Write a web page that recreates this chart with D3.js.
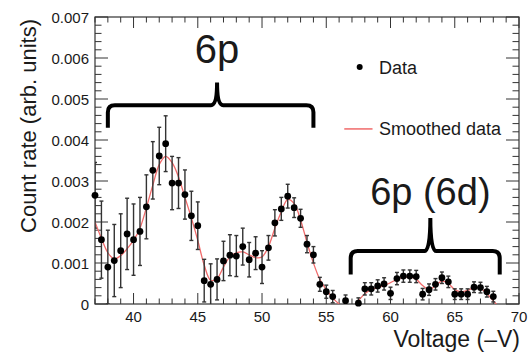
<!DOCTYPE html>
<html>
<head>
<meta charset="utf-8">
<script src="https://cdn.jsdelivr.net/npm/d3@7"></script>
<style>
  body { margin: 0; background: #fff; }
  text { font-family: "Liberation Sans", Arial, sans-serif; fill: #1a1a1a; }
</style>
</head>
<body>
<div id="chart-area"></div>
<script>
// measured points (voltage in -V, count rate in arb. units)
const voltage = [37, 37.5, 38, 38.5, 39, 39.5, 40, 40.5, 41, 41.5, 42, 42.5, 43, 43.5, 44, 44.5,
    45, 45.5, 46, 46.5, 47, 47.5, 48, 48.5, 49, 49.5, 50, 50.5, 51, 51.5, 52, 52.5, 53, 53.5,
    54, 54.5, 55, 55.5, 56.5, 57.5, 58, 58.5, 59, 59.5, 60, 60.5, 61, 61.5, 62, 62.5, 63, 63.5,
    64, 64.5, 65, 65.5, 66, 66.5, 67, 67.5, 68];
const countRate = [0.00265, 0.00157, 0.00090, 0.00106, 0.00130, 0.00171, 0.00157, 0.00177, 0.00237,
    0.00326, 0.00361, 0.00391, 0.00295, 0.00295, 0.00267, 0.00215, 0.00191, 0.00057, 0.00048,
    0.00060, 0.00105, 0.00119, 0.00117, 0.00140, 0.00108, 0.00124, 0.00090, 0.00137, 0.00198,
    0.00232, 0.00263, 0.00235, 0.00209, 0.00146, 0.00120, 0.00048, 0.00030, 0.00018, 0.00008,
    0.00002, 0.00037, 0.00037, 0.00044, 0.00049, 0.00026, 0.00062, 0.00068, 0.00068, 0.00067,
    0.00024, 0.00035, 0.00048, 0.00064, 0.00054, 0.00024, 0.00024, 0.00024, 0.00041, 0.00040,
    0.00030, 0.00018];
const countErr = [0.0008, 0.00094, 0.0009, 0.00088, 0.0009, 0.00087, 0.00087, 0.00083, 0.00078,
    0.0007, 0.0007, 0.00068, 0.00065, 0.00062, 0.0006, 0.0006, 0.00058, 0.00052, 0.0005,
    0.0005, 0.00048, 0.0005, 0.0005, 0.00045, 0.00042, 0.0004, 0.0004, 0.0003, 0.00032,
    0.00028, 0.00029, 0.00024, 0.00022, 0.00021, 0.0002, 0.00017, 0.00016, 0.00015, 0.00014,
    0.00013, 0.00015, 0.00015, 0.00015, 0.00015, 0.00015, 0.00015, 0.00015, 0.00015, 0.00015,
    0.00014, 0.00014, 0.00014, 0.00014, 0.00014, 0.00013, 0.00013, 0.00013, 0.00013, 0.00013,
    0.00013, 0.00013];

// smoothed curve
const smoothVoltage = [37, 37.5, 38, 38.5, 39, 39.5, 40, 40.5, 41, 41.5, 42, 42.5, 43, 43.5, 44,
    44.5, 45, 45.5, 46, 46.5, 47, 47.5, 48, 48.5, 49, 49.5, 50, 50.5, 51, 51.5, 52, 52.5, 53,
    53.5, 54, 54.5, 55, 55.5, 56, 56.5, 57, 57.5, 58, 58.5, 59, 59.5, 60, 60.5, 61, 61.5, 62,
    62.5, 63, 63.5, 64, 64.5, 65, 65.5, 66, 66.5, 67, 67.5, 68, 68.5];
const smoothRate = [0.00200, 0.00160, 0.00125, 0.00110, 0.00118, 0.00135, 0.00155, 0.00185,
    0.00235, 0.00290, 0.00340, 0.00360, 0.00345, 0.00310, 0.00260, 0.00210, 0.00155, 0.00095,
    0.00058, 0.00062, 0.00090, 0.00115, 0.00125, 0.00127, 0.00120, 0.00113, 0.00115, 0.00140,
    0.00185, 0.00225, 0.00255, 0.00245, 0.00205, 0.00150, 0.00100, 0.00060, 0.00035, 0.00015,
    0.00000, -0.0001, -0.0001, 0.00008, 0.00025, 0.00035, 0.00040, 0.00045, 0.00052, 0.00060,
    0.00065, 0.00066, 0.00060, 0.00045, 0.00035, 0.00045, 0.00056, 0.00050, 0.00035, 0.00030,
    0.00033, 0.00040, 0.00038, 0.00025, 0.00008, -0.0001];

const xTicks = [40, 45, 50, 55, 60, 65, 70];
const yTicks = [0, 0.001, 0.002, 0.003, 0.004, 0.005, 0.006, 0.007];

// annotation braces, in data units
const braceLabels = ["6p", "6p (6d)"];
const braceFrom = [38, 56.9];
const braceTo = [54, 68.5];
const braceMid = [46.5, 63.1];

const W = 529, H = 354;
const margin = { left: 95, right: 10, top: 17, bottom: 50 };
const width = W - margin.left - margin.right;
const height = H - margin.top - margin.bottom;

const svg = d3.select("#chart-area").append("svg")
    .attr("width", W)
    .attr("height", H);

const g = svg.append("g")
    .attr("transform", "translate(" + margin.left + "," + margin.top + ")");

const x = d3.scaleLinear().domain([37, 70]).range([0, width]);
const y = d3.scaleLinear().domain([0, 0.007]).range([height, 0]);

g.append("clipPath").attr("id", "clip")
    .append("rect").attr("width", width).attr("height", height);

const axisColor = "#333";

// ROOT-like frame with ticks on all four sides
function drawTicks(values, len, isX) {
    values.forEach(v => {
        if (isX) {
            g.append("line").attr("x1", x(v)).attr("x2", x(v)).attr("y1", height).attr("y2", height - len)
                .attr("stroke", axisColor);
            g.append("line").attr("x1", x(v)).attr("x2", x(v)).attr("y1", 0).attr("y2", len)
                .attr("stroke", axisColor);
        } else {
            g.append("line").attr("y1", y(v)).attr("y2", y(v)).attr("x1", 0).attr("x2", len)
                .attr("stroke", axisColor);
            g.append("line").attr("y1", y(v)).attr("y2", y(v)).attr("x1", width).attr("x2", width - len)
                .attr("stroke", axisColor);
        }
    });
}

const xMinor = d3.range(37, 71, 1).filter(v => v % 5 !== 0);
const yMinor = d3.range(0, 36).map(i => i * 0.0002).filter((v, i) => i % 5 !== 0);
drawTicks(xMinor, 5.5, true);
drawTicks(xTicks, 11, true);
drawTicks(yMinor, 6.5, false);
drawTicks(yTicks, 13, false);

g.append("rect")
    .attr("width", width).attr("height", height)
    .attr("fill", "none").attr("stroke", axisColor).attr("stroke-width", 1.2);

// tick labels
g.selectAll(".xlab").data(xTicks).enter().append("text")
    .attr("x", d => x(d)).attr("y", height + 18)
    .attr("text-anchor", "middle").attr("font-size", "15px")
    .text(d => d);

g.selectAll(".ylab").data(yTicks).enter().append("text")
    .attr("x", -6).attr("y", d => y(d) + 5.5)
    .attr("text-anchor", "end").attr("font-size", "15px")
    .text(d => d === 0 ? "0" : d3.format(".3f")(d));

// axis titles
svg.append("text")
    .attr("transform", "translate(36,126) rotate(-90)")
    .attr("text-anchor", "middle").attr("font-size", "22px")
    .text("Count rate (arb. units)");

svg.append("text")
    .attr("x", margin.left + width + 1).attr("y", 347)
    .attr("text-anchor", "end").attr("font-size", "23px")
    .text("Voltage (\u2013V)");

const plot = g.append("g").attr("clip-path", "url(#clip)");

// smoothed line
const smooth = smoothVoltage.map((v, i) => ({ v: v, r: smoothRate[i] }));
plot.append("path")
    .datum(smooth)
    .attr("fill", "none")
    .attr("stroke", "#f06a6a")
    .attr("stroke-width", 1.3)
    .attr("d", d3.line().x(d => x(d.v)).y(d => y(d.r)).curve(d3.curveCatmullRom.alpha(0.5)));

// data with error bars
const pts = voltage.map((v, i) => ({ v: v, r: countRate[i], e: countErr[i] }));
const bars = plot.selectAll(".err").data(pts).enter().append("g")
    .attr("stroke", "#333").attr("stroke-width", 1.4);
bars.append("line")
    .attr("x1", d => x(d.v)).attr("x2", d => x(d.v))
    .attr("y1", d => y(d.r - d.e)).attr("y2", d => y(d.r + d.e));
bars.append("line")
    .attr("x1", d => x(d.v) - 2).attr("x2", d => x(d.v) + 2)
    .attr("y1", d => y(d.r + d.e)).attr("y2", d => y(d.r + d.e));
bars.append("line")
    .attr("x1", d => x(d.v) - 2).attr("x2", d => x(d.v) + 2)
    .attr("y1", d => y(d.r - d.e)).attr("y2", d => y(d.r - d.e));

g.selectAll(".pt").data(pts).enter().append("circle")
    .attr("cx", d => x(d.v)).attr("cy", d => y(d.r))
    .attr("r", 3.4).attr("fill", "#000");

// braces
const braceBar = [0.00485, 0.00129];
const braceFoot = [0.0043, 0.00072];
const bracePeak = [0.0054, 0.0021];
const labelY = [0.00588, 0.00241];
const labelSize = [40, 38];

braceLabels.forEach((lab, i) => {
    const x0 = x(braceFrom[i]), x1 = x(braceTo[i]), xc = x(braceMid[i]);
    const yb = y(braceBar[i]), yf = y(braceFoot[i]), yp = y(bracePeak[i]);
    const r = 7, r2 = 6;
    const p = d3.path();
    p.moveTo(x0, yf);
    p.lineTo(x0, yb + r);
    p.quadraticCurveTo(x0, yb, x0 + r, yb);
    p.lineTo(xc - r2, yb);
    p.quadraticCurveTo(xc, yb, xc, yp);
    p.quadraticCurveTo(xc, yb, xc + r2, yb);
    p.lineTo(x1 - r, yb);
    p.quadraticCurveTo(x1, yb, x1, yb + r);
    p.lineTo(x1, yf);
    g.append("path").attr("d", p.toString())
        .attr("fill", "none").attr("stroke", "#000").attr("stroke-width", 4);
    g.append("text")
        .attr("x", xc).attr("y", y(labelY[i]))
        .attr("text-anchor", "middle").attr("font-size", labelSize[i] + "px")
        .text(lab);
});

// legend
const legend = g.append("g");
legend.append("circle").attr("cx", x(57.6)).attr("cy", y(0.00578)).attr("r", 3).attr("fill", "#000");
legend.append("text").attr("x", x(59.1)).attr("y", y(0.00578) + 6.5).attr("font-size", "18px").text("Data");
legend.append("line")
    .attr("x1", x(56.4)).attr("x2", x(58.6))
    .attr("y1", y(0.00427)).attr("y2", y(0.00427))
    .attr("stroke", "#f06a6a").attr("stroke-width", 1.5);
legend.append("text").attr("x", x(59.1)).attr("y", y(0.00427) + 6.5).attr("font-size", "18px").text("Smoothed data");
</script>
</body>
</html>
